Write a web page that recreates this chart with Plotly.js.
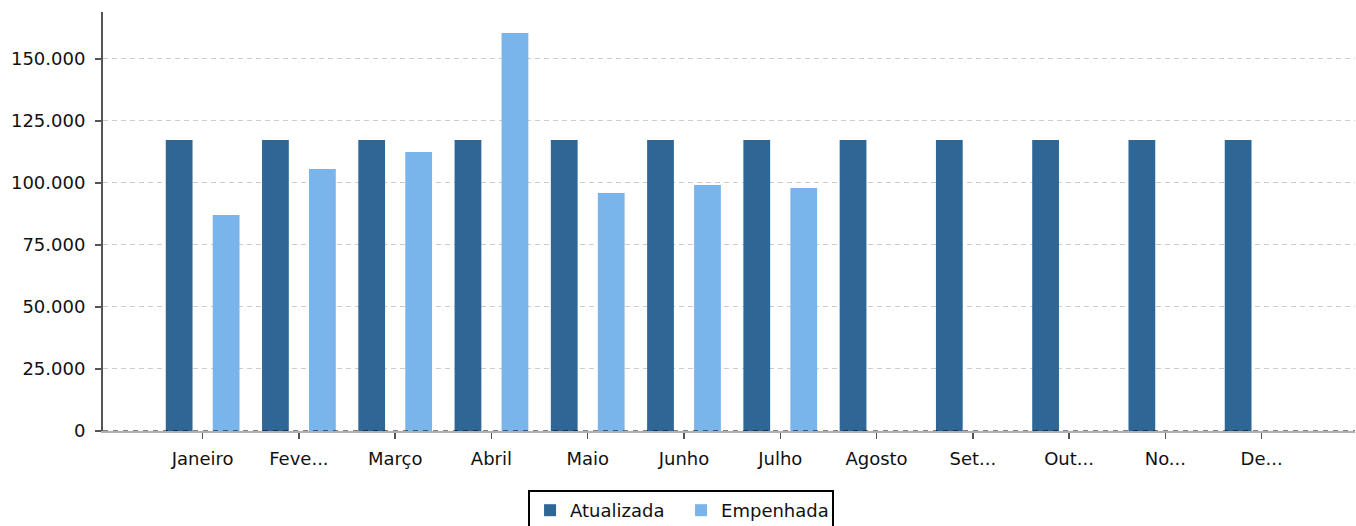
<!DOCTYPE html>
<html>
<head>
<meta charset="utf-8">
<script src="https://cdn.plot.ly/plotly-3.0.1.min.js"></script>
<style>html,body{margin:0;padding:0;background:#fff;}#chart{width:1356px;height:526px;}</style>
</head>
<body>
<div id="chart"></div>
<script>
var months = ["Janeiro","Fevereiro","Março","Abril","Maio","Junho","Julho","Agosto","Setembro","Outubro","Novembro","Dezembro"];
var monthLabels = ["Janeiro","Feve...","Março","Abril","Maio","Junho","Julho","Agosto","Set...","Out...","No...","De..."];
var atualizada = [117300,117300,117300,117300,117300,117300,117300,117300,117300,117300,117300,117300];
var empenhada = [87100,105600,112500,160400,95900,99200,98000,0,0,0,0,0];
var yTicks = [0,25000,50000,75000,100000,125000,150000];

var font = {family: "DejaVu Sans, sans-serif", size: 18, color: "#111"};

var traces = [
  {type: "bar", name: "Atualizada", x: months, y: atualizada, marker: {color: "#2e6796"}},
  {type: "bar", name: "Empenhada", x: months, y: empenhada, marker: {color: "#79b4ea"}}
];

var layout = {
  width: 1356, height: 526,
  margin: {l: 103, r: 1, t: 12, b: 95, autoexpand: false},
  paper_bgcolor: "#fff", plot_bgcolor: "#fff",
  font: font,
  separators: ",.",
  barmode: "group",
  bargap: 0.024,
  bargroupgap: 0.43,
  showlegend: true,
  legend: {
    orientation: "h", x: 0.3395, xanchor: "left", y: -0.1408, yanchor: "top",
    bordercolor: "#000", borderwidth: 2, font: font, bgcolor: "#fff",
    entrywidth: 106, entrywidthmode: "pixels"
  },
  xaxis: {
    type: "category",
    range: [-1.035, 11.97],
    tickvals: months, ticktext: monthLabels,
    ticks: "outside", ticklen: 6, tickwidth: 1.5, tickcolor: "#555",
    ticklabelstandoff: 4,
    showline: true, linecolor: "#b0b0b0", linewidth: 2,
    showgrid: false, zeroline: false, tickfont: font
  },
  yaxis: {
    range: [0, 168900],
    tickvals: yTicks, tickformat: ",d",
    ticks: "outside", ticklen: 6, tickwidth: 1.5, tickcolor: "#555",
    ticklabelstandoff: 6,
    showline: true, linecolor: "#555", linewidth: 2,
    showgrid: true, gridcolor: "#cccccc", gridwidth: 1, griddash: "5px,4px",
    zeroline: false, tickfont: font
  },
  shapes: [
    {type: "line", xref: "paper", yref: "y", x0: 0, x1: 1, y0: 0, y1: 0,
     line: {color: "#000", width: 1, dash: "5px,5px"}, layer: "above"}
  ]
};

Plotly.newPlot("chart", traces, layout, {displayModeBar: false, staticPlot: true});
</script>
</body>
</html>
